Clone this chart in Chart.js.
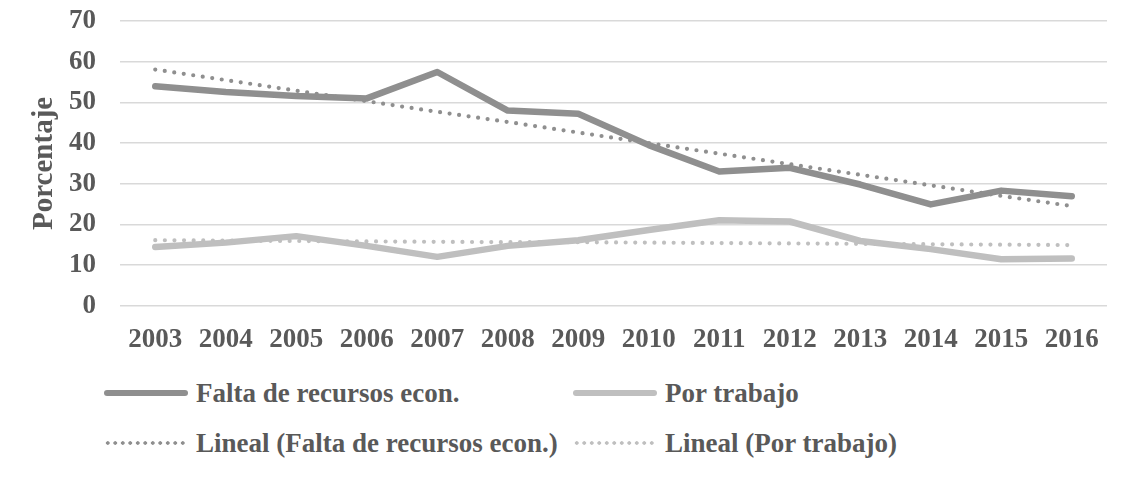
<!DOCTYPE html>
<html>
<head>
<meta charset="utf-8">
<script src="https://cdn.jsdelivr.net/npm/chart.js@4"></script>
<style>
	body { margin: 0; background: #fff; overflow: hidden; }
	#wrap { position: relative; width: 1146px; height: 490px; overflow: hidden; }
	#chartBox { position: absolute; left: 0; top: -19px; width: 1146px; height: 393px; }
	.legend-item {
		position: absolute;
		display: flex;
		align-items: center;
		height: 34px;
		font-family: "Liberation Serif", "Times New Roman", serif;
		font-weight: bold;
		font-size: 27px;
		color: #595959;
		white-space: nowrap;
	}
	.legend-item .sample { width: 84px; margin-right: 8px; }
	.sample.solid { height: 6px; border-radius: 3px; }
</style>
</head>
<body>
<div id="wrap">
	<div id="chartBox"><canvas id="lineChart"></canvas></div>
	<div id="legend"></div>
</div>
<script>
var years = ["2003", "2004", "2005", "2006", "2007", "2008", "2009", "2010", "2011", "2012", "2013", "2014", "2015", "2016"];
var yTicks = [0, 10, 20, 30, 40, 50, 60, 70];

var faltaLabel = "Falta de recursos econ.";
var faltaData = [54.0, 52.6, 51.6, 51.0, 57.5, 48.0, 47.2, 39.5, 33.0, 33.9, 29.8, 24.9, 28.3, 26.9];
var trabajoLabel = "Por trabajo";
var trabajoData = [14.4, 15.5, 17.1, 14.7, 12.0, 14.7, 16.1, 18.6, 21.0, 20.7, 15.9, 13.9, 11.4, 11.6];

var faltaTrendLabel = "Lineal (Falta de recursos econ.)";
var faltaTrend = [58.1, 55.5, 52.9, 50.3, 47.7, 45.2, 42.6, 40.0, 37.4, 34.8, 32.2, 29.6, 27.0, 24.5];
var trabajoTrendLabel = "Lineal (Por trabajo)";
var trabajoTrend = [16.1, 16.0, 15.9, 15.8, 15.7, 15.6, 15.6, 15.5, 15.4, 15.3, 15.2, 15.1, 15.0, 14.9];

var darkGray = "#8f8f8f";
var lightGray = "#bfbfbf";
var textGray = "#595959";
var serif = "'Liberation Serif', 'Times New Roman', serif";

var solidLine = function(label, data, color){
	return {
		label: label,
		data: data,
		borderColor: color,
		backgroundColor: color,
		borderWidth: 6.5,
		pointRadius: 0,
		tension: 0,
		borderCapStyle: "round",
		borderJoinStyle: "round",
		fill: false,
		order: 1
	};
};

var dottedLine = function(label, data, color){
	return {
		label: label,
		data: data,
		borderColor: color,
		backgroundColor: color,
		borderWidth: 4.2,
		borderDash: [0, 9.6],
		borderCapStyle: "round",
		pointRadius: 0,
		tension: 0,
		fill: false,
		order: 0
	};
};

var datasets = [
	solidLine(faltaLabel, faltaData, darkGray),
	solidLine(trabajoLabel, trabajoData, lightGray),
	dottedLine(faltaTrendLabel, faltaTrend, darkGray),
	dottedLine(trabajoTrendLabel, trabajoTrend, lightGray)
];

var lineChart = new Chart(document.getElementById("lineChart").getContext("2d"), {
	type: "line",
	data: { labels: years, datasets: datasets },
	options: {
		responsive: true,
		maintainAspectRatio: false,
		animation: false,
		layout: { padding: { left: 27, right: 39, top: 1, bottom: 0 } },
		plugins: {
			legend: { display: false },
			tooltip: { enabled: false }
		},
		scales: {
			x: {
				offset: true,
				grid: { display: false, drawTicks: false },
				border: { display: false },
				ticks: {
					color: textGray,
					padding: 18,
					maxRotation: 0,
					autoSkip: false,
					font: { family: serif, size: 27, weight: "bold" }
				}
			},
			y: {
				min: 0,
				max: 70,
				afterFit: function(scale){ scale.width = 93; },
				afterBuildTicks: function(scale){
					scale.ticks = yTicks.map(function(v){ return { value: v }; });
				},
				grid: { color: "#d9d9d9", lineWidth: 1.5, drawTicks: false },
				border: { display: false },
				ticks: {
					color: textGray,
					padding: 24,
					font: { family: serif, size: 27, weight: "bold" }
				},
				title: {
					display: true,
					text: "Porcentaje",
					color: textGray,
					padding: { top: 0, bottom: 0 },
					font: { family: serif, size: 29, weight: "bold" }
				}
			}
		}
	}
});

// legend built in html, two columns like the original
var legendItems = [
	{ ds: datasets[0], kind: "solid", left: 104, top: 376 },
	{ ds: datasets[1], kind: "solid", left: 573, top: 376 },
	{ ds: datasets[2], kind: "dots", left: 104, top: 426 },
	{ ds: datasets[3], kind: "dots", left: 573, top: 426 }
];

var legendBox = document.getElementById("legend");
legendItems.forEach(function(it){
	var item = document.createElement("div");
	item.className = "legend-item";
	item.style.left = it.left + "px";
	item.style.top = it.top + "px";
	var sample = document.createElement("span");
	sample.className = "sample " + it.kind;
	if (it.kind === "solid") {
		sample.style.background = it.ds.borderColor;
	} else {
		sample.style.height = "6px";
		sample.style.background = "radial-gradient(circle, " + it.ds.borderColor + " 1.5px, transparent 2.1px) 0 0 / 7.5px 6px repeat-x";
	}
	var text = document.createElement("span");
	text.textContent = it.ds.label;
	item.appendChild(sample);
	item.appendChild(text);
	legendBox.appendChild(item);
});
</script>
</body>
</html>
